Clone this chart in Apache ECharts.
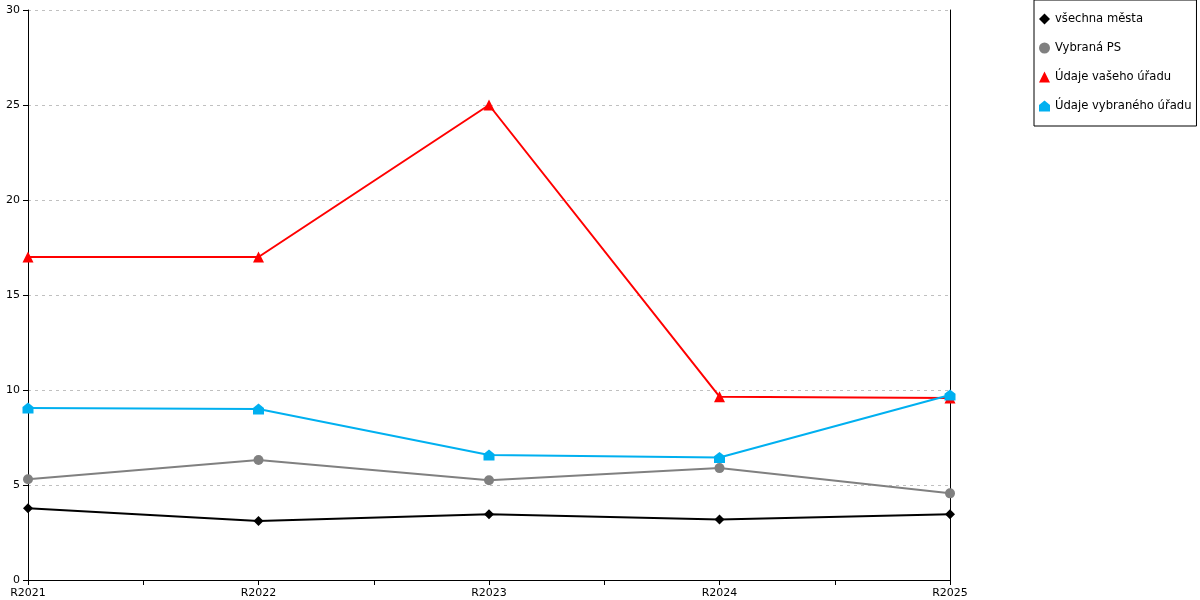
<!DOCTYPE html>
<html>
<head>
<meta charset="utf-8">
<script src="https://cdn.jsdelivr.net/npm/echarts@6/dist/echarts.min.js"></script>
<style>html,body{margin:0;padding:0;background:#fff}#c{width:1200px;height:600px}</style>
</head>
<body>
<div id="c"></div>
<script>
var categories = ['R2021', 'R2022', 'R2023', 'R2024', 'R2025'];
var vsechnaMesta = [3.78, 3.1, 3.46, 3.19, 3.46];
var vybranaPS = [5.3, 6.32, 5.25, 5.89, 4.56];
var udajeVasehoUradu = [17, 17, 25, 9.65, 9.58];
var udajeVybranehoUradu = [9.05, 9.0, 6.58, 6.45, 9.74];
var yTicks = [0, 5, 10, 15, 20, 25, 30];

var houseIcon = 'path://M0,10 L0,4 L5,0 L10,4 L10,10 Z';
var font = 'DejaVu Sans';

var chart = echarts.init(document.getElementById('c'));
chart.setOption({
  animation: false,
  backgroundColor: '#fff',
  textStyle: { fontFamily: font },
  grid: { left: 28, right: 250, top: 10, bottom: 20, containLabel: false },
  legend: {
    orient: 'vertical',
    left: 1034,
    top: 0,
    padding: [13, 5, 14, 5],
    borderColor: '#000',
    borderWidth: 1,
    itemWidth: 11,
    itemHeight: 11,
    itemGap: 17,
    textStyle: { fontFamily: font, fontSize: 11.6, color: '#000' },
    data: [
      { name: 'všechna města', icon: 'diamond' },
      { name: 'Vybraná PS', icon: 'circle' },
      { name: 'Údaje vašeho úřadu', icon: 'triangle' },
      { name: 'Údaje vybraného úřadu', icon: houseIcon }
    ]
  },
  xAxis: [
    {
      type: 'category',
      data: categories,
      boundaryGap: false,
      position: 'bottom',
      axisLine: { onZero: false, lineStyle: { color: '#000', width: 1 } },
      axisTick: { show: false },
      axisLabel: { color: '#000', fontSize: 11, fontFamily: font, margin: 8 },
      splitLine: { show: false }
    },
    {
      type: 'category',
      data: ['', '', '', '', '', '', '', ''],
      boundaryGap: true,
      position: 'bottom',
      axisLine: { show: false, onZero: false },
      axisTick: { show: true, length: 5, lineStyle: { color: '#000' } },
      axisLabel: { show: false },
      splitLine: { show: false }
    }
  ],
  yAxis: [
    {
      type: 'value',
      min: yTicks[0],
      max: yTicks[yTicks.length - 1],
      interval: 5,
      position: 'left',
      axisLine: { show: true, lineStyle: { color: '#000', width: 1 } },
      axisTick: { show: true, length: 5, lineStyle: { color: '#000' } },
      axisLabel: { color: '#000', fontSize: 11, fontFamily: font, margin: 8 },
      splitLine: { show: true, lineStyle: { color: '#c0c0c0', type: [3, 4], width: 1 } }
    },
    {
      type: 'value',
      min: 0,
      max: 30,
      interval: 5,
      position: 'right',
      axisLine: { show: true, lineStyle: { color: '#000', width: 1 } },
      axisTick: { show: false },
      axisLabel: { show: false },
      splitLine: { show: false }
    }
  ],
  series: [
    {
      name: 'všechna města', type: 'line', data: vsechnaMesta,
      symbol: 'diamond', symbolSize: 10, showAllSymbol: true,
      lineStyle: { color: '#000', width: 2 }, itemStyle: { color: '#000' }, z: 4
    },
    {
      name: 'Vybraná PS', type: 'line', data: vybranaPS,
      symbol: 'circle', symbolSize: 10, showAllSymbol: true,
      lineStyle: { color: '#808080', width: 2 }, itemStyle: { color: '#808080' }, z: 3
    },
    {
      name: 'Údaje vašeho úřadu', type: 'line', data: udajeVasehoUradu,
      symbol: 'triangle', symbolSize: 11, showAllSymbol: true,
      lineStyle: { color: '#ff0000', width: 2 }, itemStyle: { color: '#ff0000' }, z: 2
    },
    {
      name: 'Údaje vybraného úřadu', type: 'line', data: udajeVybranehoUradu,
      symbol: houseIcon, symbolSize: 11, showAllSymbol: true,
      lineStyle: { color: '#00b0f0', width: 2 }, itemStyle: { color: '#00b0f0' }, z: 5
    }
  ]
});
</script>
</body>
</html>
